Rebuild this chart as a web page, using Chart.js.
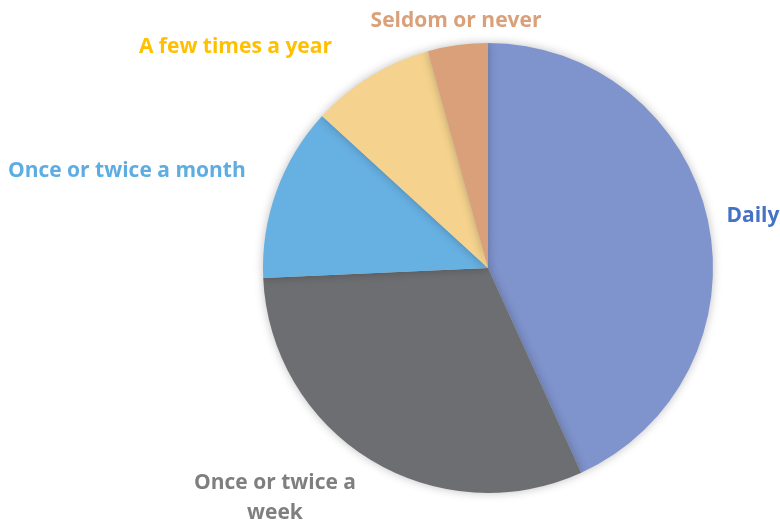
<!DOCTYPE html>
<html lang="en">
<head>
  <meta charset="UTF-8">
  <script src="https://cdn.jsdelivr.net/npm/chart.js"></script>
  <title>How often</title>
  <style>
    body { margin: 0; background: #fff; }
  </style>
</head>
<body>
<canvas id="chart" width="780" height="523"></canvas>

<script>
const labels = ['Daily', 'Once or twice a week', 'Once or twice a month', 'A few times a year', 'Seldom or never'];
const shares = [43.2, 31.1, 12.5, 8.9, 4.3];
const sliceColors = ['#7F93CC', '#6D6E71', '#67B0E2', '#F5D38E', '#D9A07A'];
const labelColors = ['#4472C4', '#7F7F7F', '#5DADE2', '#FFC000', '#D9A07A'];
const labelLines = [['Daily'], ['Once or twice a', 'week'], ['Once or twice a month'], ['A few times a year'], ['Seldom or never']];

// label tweaks: align, dx, dy (relative to an anchor just outside the slice)
const labelPlace = [
  { align: 'left', dx: -1, dy: 0 },
  { align: 'center', dx: -85, dy: 6 },
  { align: 'right', dx: -12, dy: -13 },
  { align: 'right', dx: -28, dy: -12 },
  { align: 'center', dx: 1, dy: -4 }
];

const shadowPlugin = {
  id: 'shadow',
  beforeDatasetsDraw(chart) {
    const ctx = chart.ctx;
    ctx.save();
    ctx.shadowColor = 'rgba(0,0,0,0.25)';
    ctx.shadowBlur = 10;
  },
  afterDatasetsDraw(chart) {
    chart.ctx.restore();
  }
};

const outsideLabels = {
  id: 'outsideLabels',
  afterDraw(chart) {
    const ctx = chart.ctx;
    const arcs = chart.getDatasetMeta(0).data;
    ctx.save();
    ctx.font = 'bold 21px "Open Sans"';
    ctx.textBaseline = 'middle';
    arcs.forEach((arc, i) => {
      const mid = (arc.startAngle + arc.endAngle) / 2;
      const r = arc.outerRadius + 20;
      const p = labelPlace[i];
      const x = arc.x + Math.cos(mid) * r + p.dx;
      const y = arc.y + Math.sin(mid) * r + p.dy;
      ctx.fillStyle = labelColors[i];
      ctx.textAlign = p.align;
      labelLines[i].forEach((line, j) => {
        ctx.fillText(line, x, y + j * 30);
      });
    });
    ctx.restore();
  }
};

new Chart(document.getElementById('chart'), {
  type: 'pie',
  data: {
    labels: labels,
    datasets: [{
      data: shares,
      backgroundColor: sliceColors,
      borderWidth: 0
    }]
  },
  options: {
    responsive: false,
    animation: false,
    layout: {
      padding: { left: 263, right: 67, top: 43, bottom: 30 }
    },
    plugins: {
      legend: { display: false },
      tooltip: { enabled: false }
    }
  },
  plugins: [shadowPlugin, outsideLabels]
});
</script>
</body>
</html>
